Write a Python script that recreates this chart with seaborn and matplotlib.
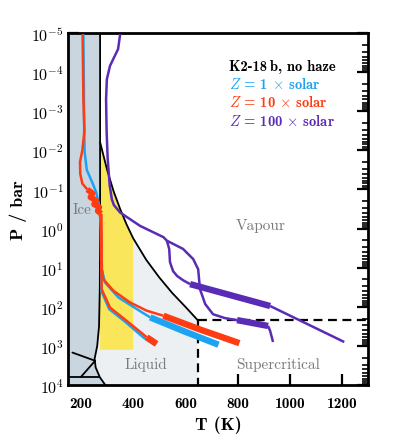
import numpy as np
import pandas as pd
import matplotlib.pyplot as plt
from matplotlib.ticker import NullLocator, LogLocator
import seaborn as sns

# water phase boundaries (T in K, log10 P in bar)
boil_T = [273, 300, 325, 350, 375, 400, 450, 500, 550, 600, 647]
boil_logP = [-2.21, -1.5, -0.95, -0.5, -0.1, 0.25, 0.8, 1.25, 1.65, 2.0, 2.34]
melt_T = [273, 273, 272, 269, 262, 252, 256, 272, 293]
melt_logP = [-5.0, 0.0, 1.5, 2.5, 3.0, 3.33, 3.55, 3.8, 4.0]
ice_a_T, ice_a_logP = [167, 254], [3.17, 3.38]
ice_b_T, ice_b_logP = [254, 200], [3.38, 3.79]
ice_c_T, ice_c_logP = [150, 270], [3.79, 3.79]
crit_T, crit_logP = 647, 2.34
hab_T_max, hab_logP_max = 400, 3.1

# P-T profiles, Z = 1 x solar
z1_top_T = [209, 211, 212, 214, 222, 243, 258, 270, 276, 277, 278]
z1_top_logP = [-4.97, -3.5, -2.5, -1.95, -1.5, -1.18, -0.93, -0.58, 0.0, 0.5, 1.0]
z1_up_T = [278, 292, 343, 414, 465]
z1_up_logP = [1.0, 1.38, 1.76, 2.06, 2.27]
z1_up_thick_T = [465, 600, 727]
z1_up_thick_logP = [2.27, 2.64, 2.97]
z1_low_T = [277, 278, 308, 372, 440, 484]
z1_low_logP = [1.0, 1.6, 2.06, 2.40, 2.79, 2.98]

# Z = 10 x solar
z10_top_T = [206, 209, 213, 205, 196, 197, 205, 224]
z10_top_logP = [-4.97, -3.3, -2.5, -2.0, -1.7, -1.4, -1.15, -1.0]
z10_jag_T = [224, 244, 236, 258, 250, 270, 264, 277]
z10_jag_logP = [-1.0, -0.9, -0.8, -0.72, -0.62, -0.55, -0.45, -0.38]
z10_mid_T = [277, 278, 278, 279]
z10_mid_logP = [-0.38, 0.3, 0.8, 1.0]
z10_up_T = [279, 285, 324, 388, 452, 516]
z10_up_logP = [1.0, 1.29, 1.59, 1.89, 2.10, 2.23]
z10_up_thick_T = [516, 660, 807]
z10_up_thick_logP = [2.23, 2.59, 2.93]
z10_low_T = [278, 279, 311, 375, 445, 452]
z10_low_logP = [1.0, 1.55, 2.02, 2.36, 2.74, 2.78]
z10_low_thick_T = [452, 490]
z10_low_thick_logP = [2.78, 2.95]

# Z = 100 x solar
z100_top_T = [350, 342, 311, 299, 296, 298, 302, 310, 318, 326, 350, 426, 516, 529]
z100_top_logP = [-4.97, -4.59, -4.16, -3.82, -3.31, -2.5, -1.8, -1.1, -0.75, -0.6, -0.41, -0.07, 0.22, 0.31]
z100_a_T = [529, 591, 630, 649, 656, 676, 706, 752, 798]
z100_a_logP = [0.31, 0.52, 0.78, 1.04, 1.55, 1.93, 2.19, 2.29, 2.34]
z100_a_thick_T = [798, 917]
z100_a_thick_logP = [2.34, 2.49]
z100_a_tail_T = [917, 925, 936]
z100_a_tail_logP = [2.49, 2.62, 2.90]
z100_b_T = [529, 538, 541, 553, 568, 591, 618]
z100_b_logP = [0.31, 0.52, 0.86, 1.09, 1.21, 1.32, 1.42]
z100_b_thick_T = [618, 925]
z100_b_thick_logP = [1.42, 1.98]
z100_b_tail_T = [925, 1209]
z100_b_tail_logP = [1.98, 2.90]

c1, c10, c100 = '#1ca4f2', '#ff3b12', '#5a2bb5'

sns.set_style('ticks')
plt.rcParams['font.family'] = 'serif'
plt.rcParams['font.serif'] = ['cmr10', 'DejaVu Serif']
plt.rcParams['mathtext.fontset'] = 'cm'
plt.rcParams['axes.unicode_minus'] = False
for key in ['text.color', 'axes.labelcolor', 'axes.edgecolor', 'xtick.color', 'ytick.color']:
    plt.rcParams[key] = 'black'


def P(logp):
    return 10.0 ** np.asarray(logp, dtype=float)


fig = plt.figure(figsize=(3.99, 4.39), dpi=100)
ax = fig.add_axes([0.1704, 0.1207, 0.7519, 0.8018])
ax.set_yscale('log')

# regions
ax.fill_betweenx(P(melt_logP), 150, melt_T, color='#c9d6df', lw=0, zorder=1)
liq = [(t, p) for t, p in zip(melt_T, melt_logP) if p > boil_logP[0]]
liq_T = boil_T + [crit_T] + [t for t, p in liq[::-1]]
liq_logP = boil_logP + [4.0] + [p for t, p in liq[::-1]]
ax.fill(liq_T, P(liq_logP), color='#edf0f3', lw=0, zorder=1)
hab = [(t, p) for t, p in zip(boil_T, boil_logP) if t <= hab_T_max]
hab_T = [t for t, p in hab] + [hab_T_max, boil_T[0]]
hab_logP = [p for t, p in hab] + [hab_logP_max, hab_logP_max]
ax.fill(hab_T, P(hab_logP), color='#f9e65a', lw=0, zorder=2)

# boundaries
ax.plot(boil_T, P(boil_logP), color='k', lw=1.3, zorder=3)
ax.plot(melt_T, P(melt_logP), color='k', lw=1.3, zorder=3)
for tt, pp in [(ice_a_T, ice_a_logP), (ice_b_T, ice_b_logP), (ice_c_T, ice_c_logP)]:
    ax.plot(tt, P(pp), color='k', lw=1.3, zorder=3)
ax.plot([crit_T, 1300], P([crit_logP, crit_logP]), color='k', lw=1.6, ls=(0, (4, 2.5)), zorder=3)
ax.plot([crit_T, crit_T], P([crit_logP, 4.0]), color='k', lw=1.6, ls=(0, (4, 2.5)), zorder=3)


def draw(T, logp, color, lw, z=5):
    df = pd.DataFrame({'T': T, 'P': P(logp)})
    sns.lineplot(data=df, x='T', y='P', sort=False, estimator=None, color=color,
                 linewidth=lw, solid_capstyle='butt', ax=ax, zorder=z)


thin, thick = 1.8, 4.6
draw(z1_top_T, z1_top_logP, c1, thin)
draw(z1_low_T, z1_low_logP, c1, thin)
draw(z1_up_T, z1_up_logP, c1, thin)
draw(z1_up_thick_T, z1_up_thick_logP, c1, thick)

draw(z10_top_T, z10_top_logP, c10, thin, 6)
draw(z10_jag_T, z10_jag_logP, c10, 4.2, 6)
draw(z10_mid_T, z10_mid_logP, c10, thin + 0.4, 6)
draw(z10_up_T, z10_up_logP, c10, thin, 6)
draw(z10_up_thick_T, z10_up_thick_logP, c10, thick, 6)
draw(z10_low_T, z10_low_logP, c10, thin, 6)
draw(z10_low_thick_T, z10_low_thick_logP, c10, thick, 6)

draw(z100_top_T, z100_top_logP, c100, thin, 7)
draw(z100_a_T, z100_a_logP, c100, thin, 7)
draw(z100_a_thick_T, z100_a_thick_logP, c100, thick, 7)
draw(z100_a_tail_T, z100_a_tail_logP, c100, thin, 7)
draw(z100_b_T, z100_b_logP, c100, thin, 7)
draw(z100_b_thick_T, z100_b_thick_logP, c100, thick, 7)
draw(z100_b_tail_T, z100_b_tail_logP, c100, thin, 7)

# labels
grey = '#7a7a7a'
ax.text(205, P(-0.5), 'Ice', color=grey, fontsize=11, ha='center', va='center', zorder=8)
ax.text(890, P(-0.09), 'Vapour', color=grey, fontsize=11, ha='center', va='center', zorder=8)
ax.text(448, P(3.47), 'Liquid', color=grey, fontsize=11, ha='center', va='center', zorder=8)
ax.text(957, P(3.47), 'Supercritical', color=grey, fontsize=11, ha='center', va='center', zorder=8)

legend_lines = [('K2-18\u2009b, no haze', 'k'),
                (r'$Z$ = 1 $\times$ solar', c1),
                (r'$Z$ = 10 $\times$ solar', c10),
                (r'$Z$ = 100 $\times$ solar', c100)]
for (txt, col), lp in zip(legend_lines, [-4.16, -3.70, -3.24, -2.76]):
    ax.text(767, P(lp), txt, color=col, fontsize=10.5, ha='left', va='center',
            family=['cmb10', 'DejaVu Serif'], zorder=8)

ax.set_xlim(150, 1300)
ax.set_ylim(1e4, 1e-5)
ax.set_xticks([200, 400, 600, 800, 1000, 1200])
ax.set_xticklabels(['200', '400', '600', '800', '1000', '1200'], family='cmb10', fontsize=11)
ax.set_yticks(P(np.arange(-5, 5)))
ax.set_yticklabels([r'$\mathbf{10^{%d}}$' % k for k in range(-5, 5)], fontsize=11.5)
ax.yaxis.set_minor_locator(LogLocator(base=10, subs=np.arange(2, 10), numticks=20))
ax.xaxis.set_minor_locator(NullLocator())
ax.tick_params(which='major', direction='in', length=8, width=1.6, right=True, top=False, pad=3)
ax.tick_params(axis='x', pad=8)
ax.tick_params(which='minor', direction='in', length=4, width=1.2, right=True, top=False)
for s in ax.spines.values():
    s.set_linewidth(2)
ax.set_xlabel('T (K)', family='cmb10', fontsize=13, labelpad=4)
ax.set_ylabel('P / bar', family='cmb10', fontsize=13, labelpad=3)

fig.savefig('out.png', dpi=100)
